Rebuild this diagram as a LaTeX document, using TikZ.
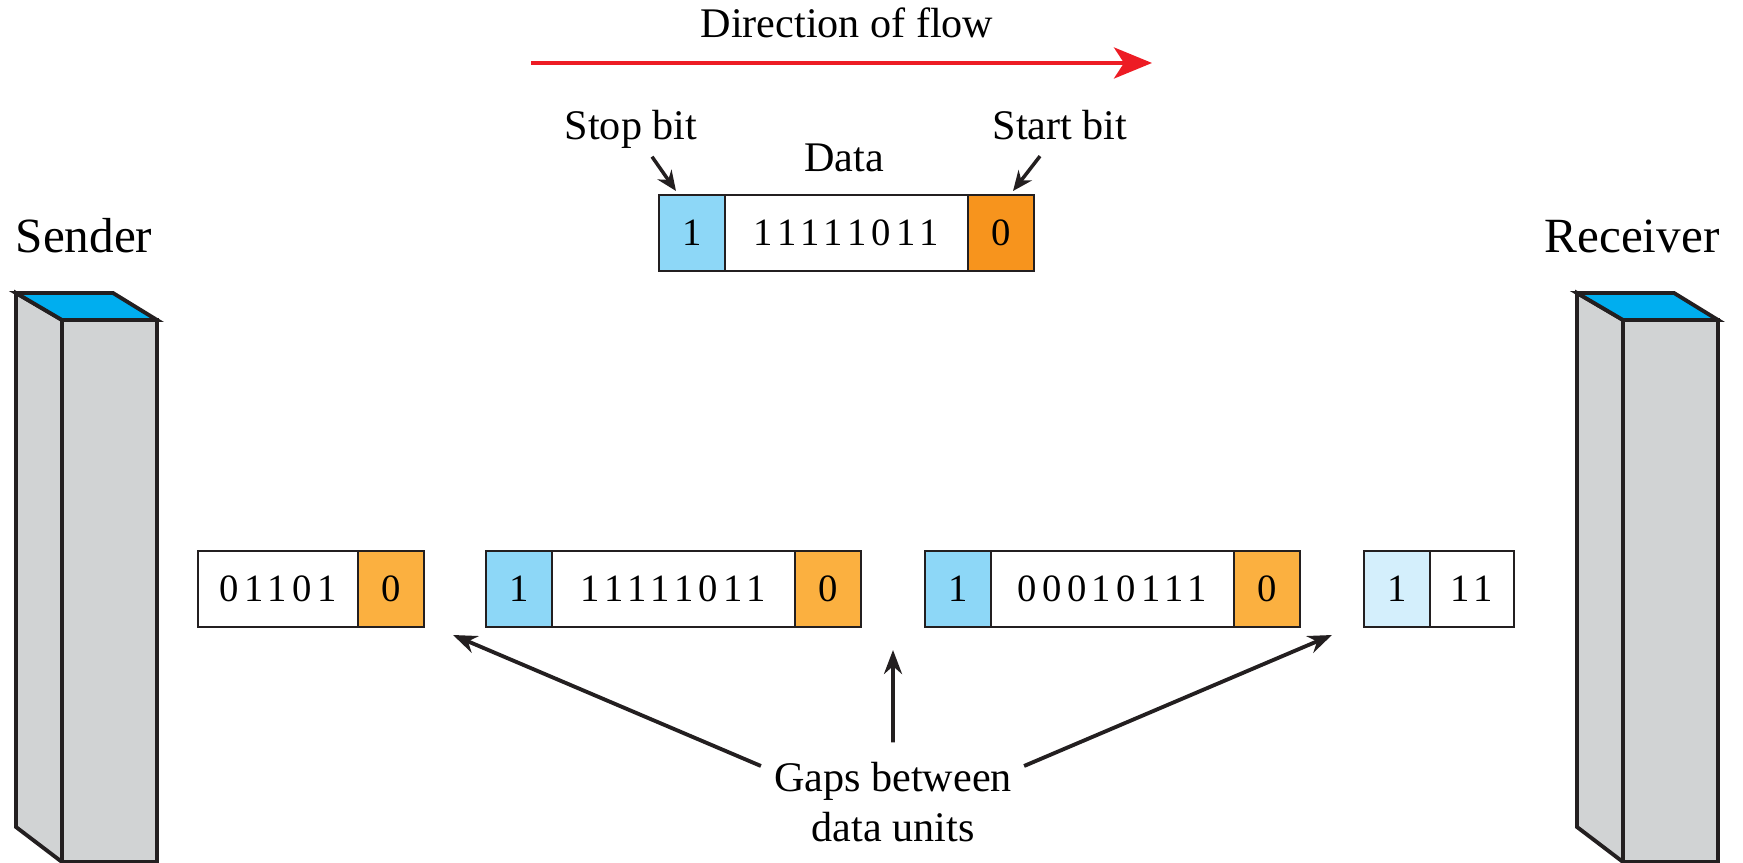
\documentclass[tikz,border=0pt]{standalone}
\usepackage{fontspec}
\setmainfont{Liberation Serif}
\newfontfamily\bitfont[LetterSpace=14]{Liberation Serif}
\usepackage{tikz}
\usetikzlibrary{arrows.meta}
\usetikzlibrary{positioning,calc}
\definecolor{stopblue}{HTML}{8DD7F7}
\definecolor{paleblue}{HTML}{D4EFFC}
\definecolor{startorange}{HTML}{F7941D}
\definecolor{unitorange}{HTML}{FBB040}
\definecolor{towergrey}{HTML}{D1D3D4}
\definecolor{towertop}{HTML}{00AEEF}
\definecolor{flowred}{HTML}{ED1C24}
\definecolor{ink}{HTML}{231F20}
\tikzset{>={Stealth}}

\begin{document}
\begin{tikzpicture}[x=0.1mm, y=-0.1mm,
	txt/.style={font=\fontsize{12}{14.2}\selectfont, inner sep=2pt},
	bigtxt/.style={font=\fontsize{14}{16}\selectfont, inner sep=2pt, anchor=base},
	bitcell/.style={draw=ink, line width=0.7pt, minimum height=7.6mm, inner sep=0pt, outer sep=0pt, font=\bitfont\fontsize{11}{13}\selectfont},
	stopcell/.style={bitcell, fill=stopblue, minimum width=6.6mm},
	startcell/.style={bitcell, fill=unitorange, minimum width=6.6mm},
	datacell/.style={bitcell, fill=white, minimum width=24.3mm},
	tower/.style={draw=ink, line width=1.1pt, line join=miter, fill=towergrey},
	pointer/.style={->, >={Stealth[length=2.4mm,width=1.8mm]}, line width=1.1pt, draw=ink},
	smallpointer/.style={->, >={Stealth[length=2mm,width=1.7mm]}, line width=1pt, draw=ink},
	flowarrow/.style={->, >={Stealth[length=3.8mm,width=3.1mm,inset=1mm]}, line width=1.2pt, draw=flowred}]
	\useasboundingbox (0,0) rectangle (1743,863);

	% sender and receiver
	\foreach \x in {16,1577} {
		\draw[tower] (\x,293) -- (\x+46,320) -- (\x+46,862) -- (\x,827) -- cycle;
		\draw[tower] (\x+46,320) rectangle (\x+141,862);
		\draw[tower, fill=towertop] (\x,293) -- (\x+97,293) -- (\x+141,320) -- (\x+46,320) -- cycle;
	}
	\node[bigtxt] (sender) at (84,253) {Sender};
	\node[bigtxt] (receiver) at (1632,253) {Receiver};

	% direction of flow
	\node[txt, anchor=base] (flow) at (847,38) {Direction of flow};
	\coordinate (flowtail) at (531,63);
	\coordinate (flowhead) at (1152,63);
	\draw[flowarrow] (flowtail) -- (flowhead);

	% one data unit
	\node[stopcell, anchor=west] (t1) at (659,233) {1};
	\node[datacell, right=0pt of t1] (t2) {11111011};
	\node[startcell, fill=startorange, right=0pt of t2] (t3) {0};
	\node[txt, anchor=base] (stop) at (631,140) {Stop bit};
	\node[txt, anchor=base] (data) at (844,172) {Data};
	\node[txt, anchor=base] (start) at (1060,140) {Start bit};
	\draw[smallpointer] ([xshift=2.1mm]stop.south) -- ([xshift=1.7mm,yshift=0.4mm]t1.north west);
	\draw[smallpointer] ([xshift=-2mm,yshift=-0.8mm]start.south) -- ([xshift=-2.1mm,yshift=0.4mm]t3.north east);

	% stream on the line
	\node[datacell, minimum width=16mm, anchor=west] (a1) at (198,589) {01101};
	\node[startcell, right=0pt of a1] (a2) {0};
	\node[stopcell, right=6.2mm of a2] (b1) {1};
	\node[datacell, right=0pt of b1] (b2) {11111011};
	\node[startcell, right=0pt of b2] (b3) {0};
	\node[stopcell, right=6.4mm of b3] (c1) {1};
	\node[datacell, right=0pt of c1] (c2) {00010111};
	\node[startcell, right=0pt of c2] (c3) {0};
	\node[stopcell, fill=paleblue, right=6.4mm of c3] (d1) {1};
	\node[datacell, minimum width=8.4mm, right=0pt of d1] (d2) {11};

	% gaps
	\coordinate (gap1) at ($(a2.south east)!0.5!(b1.south west)$);
	\coordinate (gap2) at ($(b3.south east)!0.5!(c1.south west)$);
	\coordinate (gap3) at ($(c3.south east)!0.5!(d1.south west)$);
	\node[txt, align=center] (gaps) at (893,802) {Gaps between\\data units};
	\draw[pointer] ([xshift=-0.55mm,yshift=-1.15mm]gaps.north west) -- ([xshift=-0.2mm,yshift=-0.8mm]gap1);
	\draw[pointer] ([yshift=1.2mm]gaps.north) -- ([yshift=-2.3mm]gap2);
	\draw[pointer] ([xshift=0.45mm,yshift=-1.15mm]gaps.north east) -- ([yshift=-0.8mm]gap3);
\end{tikzpicture}
\end{document}
